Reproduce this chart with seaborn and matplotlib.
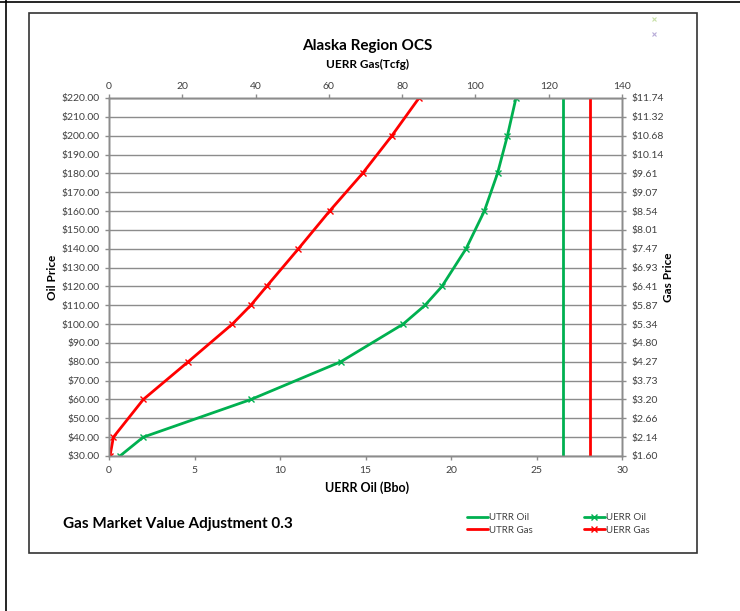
import matplotlib
matplotlib.use("Agg")
import matplotlib.pyplot as plt
from matplotlib.lines import Line2D
from matplotlib.patches import Rectangle
import seaborn as sns

# data
oil_price = [30, 40, 60, 80, 100, 110, 120, 140, 160, 180, 200, 220]
uerr_oil = [0.64, 2.0, 8.3, 13.55, 17.2, 18.48, 19.47, 20.88, 21.95, 22.72, 23.3, 23.8]   # Bbo
uerr_gas = [0.27, 1.2, 9.36, 21.6, 33.65, 38.7, 43.0, 51.7, 60.2, 69.2, 77.2, 84.6]      # Tcfg
utrr_oil = 26.53   # Bbo
utrr_gas = 131.3   # Tcfg

oil_ticks = list(range(30, 230, 10))
oil_labels = ["$%.2f" % v for v in oil_ticks]
gas_labels = ["$1.60", "$2.14", "$2.66", "$3.20", "$3.73", "$4.27", "$4.80", "$5.34",
              "$5.87", "$6.41", "$6.93", "$7.47", "$8.01", "$8.54", "$9.07", "$9.61",
              "$10.14", "$10.68", "$11.32", "$11.74"]
oil_x_ticks = [0, 5, 10, 15, 20, 25, 30]
gas_x_ticks = [0, 20, 40, 60, 80, 100, 120, 140]

green = "#00b050"
red = "#ff0000"
grid_c = "#8c8c8c"
txt_c = "#404040"

sns.set_style("white")
plt.rcParams["font.family"] = ["Lato", "DejaVu Sans"]

W, H = 740, 611
fig = plt.figure(figsize=(W / 100, H / 100), dpi=100)

def fx(px):
    return px / W

def fy(py):
    return 1 - py / H

# plot area: x 109..622, y 98..456 (pixels)
ax = fig.add_axes([fx(109), fy(456), fx(622 - 109), (456 - 98) / H])
ax_top = ax.twiny()
ax_right = ax.twinx()

# oil series on bottom/left axes
sns.lineplot(x=uerr_oil, y=oil_price, sort=False, ax=ax, color=green, linewidth=2,
             marker="x", markersize=5, markeredgecolor=green, markeredgewidth=1, legend=False)
ax.axvline(utrr_oil, color=green, linewidth=2)

# gas series on top axis
sns.lineplot(x=uerr_gas, y=oil_price, sort=False, ax=ax_top, color=red, linewidth=2,
             marker="x", markersize=5, markeredgecolor=red, markeredgewidth=1, legend=False)
ax_top.axvline(utrr_gas, color=red, linewidth=2)

ax.set_xlim(0, 30)
ax.set_ylim(30, 220)
ax_top.set_xlim(0, 140)
ax_right.set_ylim(30, 220)

ax.set_xticks(oil_x_ticks)
ax.set_yticks(oil_ticks)
ax.set_yticklabels(oil_labels)
ax_top.set_xticks(gas_x_ticks)
ax_right.set_yticks(oil_ticks)
ax_right.set_yticklabels(gas_labels)

ax.yaxis.grid(True, color=grid_c, linewidth=1)
ax.xaxis.grid(False)
ax_top.grid(False)
ax_right.grid(False)

for a in (ax, ax_top, ax_right):
    for s in a.spines.values():
        s.set_color(grid_c)
        s.set_linewidth(1)
    a.tick_params(colors=grid_c, labelcolor=txt_c, labelsize=7.5, length=3, width=1, direction="out")
ax.tick_params(axis="x", pad=4)
ax.tick_params(axis="y", pad=4)
ax_top.tick_params(axis="x", pad=2)
ax_right.tick_params(axis="y", pad=4)

ax.set_xlabel("")
ax.set_ylabel("")
ax_top.set_xlabel("")
ax_right.set_ylabel("")

# texts
fig.text(fx(367), fy(46), "Alaska Region OCS", ha="center", va="center",
         fontsize=11, fontweight="bold", color="black")
fig.text(fx(367), fy(64), "UERR Gas(Tcfg)", ha="center", va="center",
         fontsize=8.5, fontweight="bold", color="black")
fig.text(fx(367), fy(488), "UERR Oil (Bbo)", ha="center", va="center",
         fontsize=9, fontweight="bold", color="black")
fig.text(fx(52), fy(277), "Oil Price", ha="center", va="center", rotation=90,
         fontsize=8.5, fontweight="bold", color="black")
fig.text(fx(669), fy(277), "Gas Price", ha="center", va="center", rotation=90,
         fontsize=8.5, fontweight="bold", color="black")
fig.text(fx(63), fy(524), "Gas Market Value Adjustment 0.3", ha="left", va="center",
         fontsize=11, fontweight="bold", color="black")

# legend
handles = [
    Line2D([], [], color=green, linewidth=2),
    Line2D([], [], color=red, linewidth=2),
    Line2D([], [], color=green, linewidth=2, marker="x", markersize=4, markeredgecolor=green),
    Line2D([], [], color=red, linewidth=2, marker="x", markersize=4, markeredgecolor=red),
]
labels = ["UTRR Oil", "UTRR Gas", "UERR Oil", "UERR Gas"]
fig.legend(handles, labels, loc="center left", bbox_to_anchor=(fx(462), fy(524)),
           ncol=2, frameon=False, fontsize=7, handlelength=2.2, handletextpad=0.1,
           columnspacing=5.2, labelspacing=0.35, labelcolor=txt_c, borderpad=0)

# stray legend markers top right
fig.add_artist(Line2D([fx(654)], [fy(19)], marker="x", markersize=3, color="#c8e0a8",
                      markeredgewidth=0.8, transform=fig.transFigure))
fig.add_artist(Line2D([fx(654)], [fy(34)], marker="x", markersize=3, color="#b8acd8",
                      markeredgewidth=0.8, transform=fig.transFigure))

# chart frame and outer page lines
fig.add_artist(Rectangle((fx(29), fy(553)), fx(697 - 29), (553 - 13) / H, fill=False,
                         edgecolor="#333333", linewidth=1.2, transform=fig.transFigure))
fig.add_artist(Line2D([0, 1], [fy(1.5), fy(1.5)], color="black", linewidth=1.2,
                      transform=fig.transFigure))
fig.add_artist(Line2D([fx(5.5), fx(5.5)], [0, 1], color="black", linewidth=1.2,
                      transform=fig.transFigure))

fig.savefig("out.png", dpi=100)
